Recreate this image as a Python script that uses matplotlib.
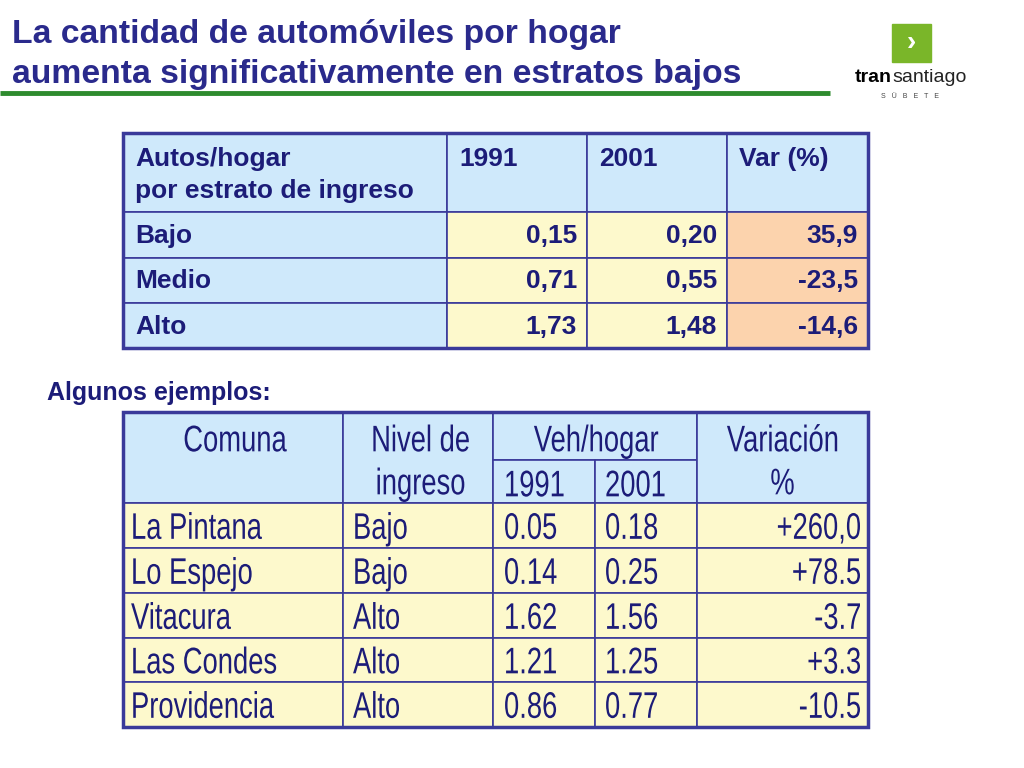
import matplotlib.pyplot as plt
from matplotlib.patches import Rectangle, PathPatch
from matplotlib.textpath import TextPath
from matplotlib.font_manager import FontProperties
from matplotlib.transforms import Affine2D

plt.rcParams["font.family"] = "Liberation Sans"

# top table data
estratos = ["Bajo", "Medio", "Alto"]
autos_1991 = ["0,15", "0,71", "1,73"]
autos_2001 = ["0,20", "0,55", "1,48"]
var_pct = ["35,9", "-23,5", "-14,6"]

# example table data
comunas = ["La Pintana", "Lo Espejo", "Vitacura", "Las Condes", "Providencia"]
nivel = ["Bajo", "Bajo", "Alto", "Alto", "Alto"]
veh_1991 = ["0.05", "0.14", "1.62", "1.21", "0.86"]
veh_2001 = ["0.18", "0.25", "1.56", "1.25", "0.77"]
variacion = ["+260,0", "+78.5", "-3.7", "+3.3", "-10.5"]

NAVY = "#1c1c78"
BORDER = "#3a3a9a"
BLUE = "#cfe9fb"
YELLOW = "#fdf9cc"
ORANGE = "#fcd3ad"

fig = plt.figure(figsize=(10.24, 7.68), dpi=100)
ax = fig.add_axes([0, 0, 1, 1])
ax.set_xlim(0, 1024)
ax.set_ylim(768, 0)
ax.axis("off")

# title
ax.text(12, 35, "La cantidad de automóviles por hogar", fontsize=24.3, fontweight="bold",
        color="#2a2a8c", va="center")
ax.text(12, 75, "aumenta significativamente en estratos bajos", fontsize=24.3, fontweight="bold",
        color="#2a2a8c", va="center")
ax.plot([0, 830], [93, 93], color="#2e8b2e", lw=3.5, solid_capstyle="butt")

# logo
ax.add_patch(Rectangle((892, 24), 39, 38, color="#7ab629"))
ax.text(911, 43, "›", color="white", fontsize=20, fontweight="bold", ha="center", va="center")
ax.text(892, 77, "tran", fontsize=14, fontweight="bold", color="black", va="center", ha="right")
ax.text(892, 77, "santiago", fontsize=14, color="#222", va="center", ha="left")
ax.text(910, 96, "S   Ü   B   E   T   E", fontsize=5, color="#444", ha="center", va="center")

def cell(x0, x1, y0, y1, fc, lw=1.2):
    ax.add_patch(Rectangle((x0, y0), x1 - x0, y1 - y0, facecolor=fc, edgecolor=BORDER, lw=lw))

# top table
FS = 19
xs = [123, 447, 587, 727, 868]
ys = [133, 212, 258, 303, 348]
heads = ["Autos/hogar\npor estrato de ingreso", "1991", "2001", "Var (%)"]
for j in range(4):
    cell(xs[j], xs[j + 1], ys[0], ys[1], BLUE)
    ax.text(xs[j] + 12, ys[0] + 14, heads[j], fontsize=FS, fontweight="bold", color=NAVY,
            va="top", linespacing=1.4)
for i in range(3):
    y0, y1 = ys[i + 1], ys[i + 2]
    vals = [estratos[i], autos_1991[i], autos_2001[i], var_pct[i]]
    fcs = [BLUE, YELLOW, YELLOW, ORANGE]
    for j in range(4):
        cell(xs[j], xs[j + 1], y0, y1, fcs[j])
        if j == 0:
            ax.text(xs[j] + 12, (y0 + y1) / 2 + 1, vals[j], fontsize=FS, fontweight="bold",
                    color=NAVY, va="center")
        else:
            ax.text(xs[j + 1] - 10, (y0 + y1) / 2 + 1, vals[j], fontsize=FS, fontweight="bold",
                    color=NAVY, va="center", ha="right")
ax.add_patch(Rectangle((xs[0], ys[0]), xs[-1] - xs[0], ys[-1] - ys[0], fill=False,
                       edgecolor=BORDER, lw=2.5))

ax.text(47, 393, "Algunos ejemplos:", fontsize=18, fontweight="bold", color=NAVY, va="center")

# condensed text for the examples table
fp = FontProperties(family="Liberation Sans")
SIZE = 37
SX = 0.74

def ntext(x, yc, s, ha="left"):
    p = TextPath((0, 0), s, size=1, prop=fp)
    w = p.get_extents().x1 * SIZE * SX
    if ha == "center":
        x = x - w / 2
    elif ha == "right":
        x = x - w
    tr = Affine2D().scale(SIZE * SX, -SIZE).translate(x, yc + SIZE * 0.72 / 2)
    ax.add_patch(PathPatch(tr.transform_path(p), facecolor=NAVY, edgecolor="none", lw=0))

bx = [123, 343, 493, 595, 697, 868]
by = [412, 503, 548, 593, 638, 682, 727]
cell(bx[0], bx[1], by[0], by[1], BLUE)
cell(bx[1], bx[2], by[0], by[1], BLUE)
cell(bx[2], bx[4], by[0], 460, BLUE)
cell(bx[2], bx[3], 460, by[1], BLUE)
cell(bx[3], bx[4], 460, by[1], BLUE)
cell(bx[4], bx[5], by[0], by[1], BLUE)
ntext(235, 438, "Comuna", "center")
ntext(420, 438, "Nivel de", "center")
ntext(420, 481, "ingreso", "center")
ntext(596, 438, "Veh/hogar", "center")
ntext(504, 483, "1991")
ntext(605, 483, "2001")
ntext(782, 438, "Variación", "center")
ntext(782, 481, "%", "center")
for i in range(len(comunas)):
    y0, y1 = by[i + 1], by[i + 2]
    yc = (y0 + y1) / 2
    for j in range(5):
        cell(bx[j], bx[j + 1], y0, y1, YELLOW)
    ntext(bx[0] + 8, yc, comunas[i])
    ntext(bx[1] + 10, yc, nivel[i])
    ntext(bx[2] + 11, yc, veh_1991[i])
    ntext(bx[3] + 10, yc, veh_2001[i])
    ntext(bx[5] - 8, yc, variacion[i], "right")
ax.add_patch(Rectangle((bx[0], by[0]), bx[-1] - bx[0], by[-1] - by[0], fill=False,
                       edgecolor=BORDER, lw=2.5))

fig.savefig("out.png", dpi=100)
